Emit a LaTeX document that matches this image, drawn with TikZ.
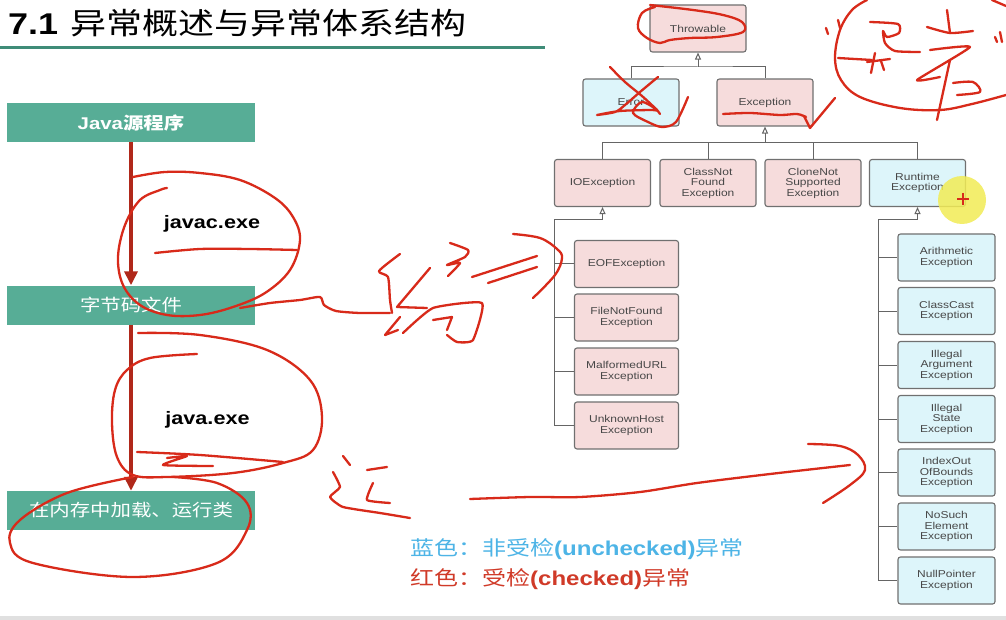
\documentclass[tikz,border=0pt]{standalone}
\usepackage{fontspec}
\setmainfont{Liberation Sans}[FakeStretch=1.2]
\newfontfamily\cjk{Noto Sans CJK SC}[FakeStretch=1.2]
\usetikzlibrary{arrows.meta}

\definecolor{boxgreen}{HTML}{57AD96}
\definecolor{rulegreen}{HTML}{3F8C78}
\definecolor{flowred}{HTML}{B0281A}
\definecolor{handred}{HTML}{D82A1A}
\definecolor{pinkfill}{HTML}{F6DCDC}
\definecolor{bluefill}{HTML}{DDF5FA}
\definecolor{boxline}{HTML}{707070}
\definecolor{boxtext}{HTML}{474747}
\definecolor{legblue}{HTML}{4DB4E6}
\definecolor{legred}{HTML}{D03A28}
\definecolor{cursor}{HTML}{F2EC55}

\tikzset{
  flowbox/.style={fill=boxgreen, text=white, minimum width=248pt, minimum height=39pt,
    inner sep=0pt, font=\fontsize{17}{17}\selectfont},
  toolname/.style={inner sep=0pt, font=\fontsize{18}{18}\selectfont\bfseries},
  flowarrow/.style={draw=flowred, line width=3.5pt, -{Triangle[length=14pt,width=13pt]}},
  cls/.style={draw=boxline, line width=1.1pt, rounded corners=2.5pt, align=center,
    inner sep=0pt, text=boxtext, font=\fontsize{10}{10.5}\selectfont},
  checked/.style={cls, fill=pinkfill},
  unchecked/.style={cls, fill=bluefill},
  wide/.style={minimum width=96pt, minimum height=47pt},
  leaf/.style={minimum width=104pt, minimum height=47pt},
  rleaf/.style={minimum width=97pt, minimum height=47pt},
  link/.style={draw=boxline!90!black, line width=1pt},
  inherit/.style={link, -{Triangle[open, length=7pt, width=6pt]}},
  hand/.style={draw=handred, line width=2.3pt, line cap=round, line join=round},
}

\begin{document}
\begin{tikzpicture}[x=1pt, y=-1pt]
\useasboundingbox (0,0) rectangle (1006,620);
\fill[white] (0,0) rectangle (1006,620);
\fill[black!12] (0,616) rectangle (1006,620);

% heading and rule
\node[anchor=base west, inner sep=0pt] (title) at (8,35)
  {\fontsize{30}{30}\selectfont\bfseries 7.1\hspace{12pt}{\cjk\mdseries 异常概述与异常体系结构}};
\draw[rulegreen, line width=3pt] (0,48) -- (545,48);

% compile / run flow
\node[flowbox] (src) at (131,122.5) {\bfseries Java{\cjk 源程序}};
\node[flowbox] (byte) at (131,305) {\cjk 字节码文件};
\node[flowbox] (run) at (131,510.5) {\cjk 在内存中加载、运行类};
\draw[flowarrow] (src.south) -- (byte.north);
\draw[flowarrow] (byte.south) -- (run.north);
\node[toolname] (javac) at (212,224) {javac.exe};
\node[toolname] (java) at (207.5,420) {java.exe};

% class hierarchy
\node[checked, wide] (thr) at (698,28.5) {Throwable};
\node[unchecked, wide] (err) at (631,102.5) {Error};
\node[checked, wide] (exc) at (765,102.5) {Exception};

\node[checked, wide] (io) at (602.5,183) {IOException};
\node[checked, wide] (cnf) at (708,183) {ClassNot\\Found\\Exception};
\node[checked, wide] (cns) at (813,183) {CloneNot\\Supported\\Exception};
\node[unchecked, wide] (rt) at (917.5,183) {Runtime\\Exception};

\node[checked, leaf] (eof) at (626.5,264) {EOFException};
\node[checked, leaf] (fnf) at (626.5,317.5) {FileNotFound\\Exception};
\node[checked, leaf] (mal) at (626.5,371.5) {MalformedURL\\Exception};
\node[checked, leaf] (unk) at (626.5,425.5) {UnknownHost\\Exception};

\node[unchecked, rleaf] (ari) at (946.5,257.5) {Arithmetic\\Exception};
\node[unchecked, rleaf] (cce) at (946.5,311) {ClassCast\\Exception};
\node[unchecked, rleaf] (iae) at (946.5,365) {Illegal\\Argument\\Exception};
\node[unchecked, rleaf] (ise) at (946.5,419) {Illegal\\State\\Exception};
\node[unchecked, rleaf] (ioob) at (946.5,472.5) {IndexOut\\OfBounds\\Exception};
\node[unchecked, rleaf] (nse) at (946.5,526.5) {NoSuch\\Element\\Exception};
\node[unchecked, rleaf] (npe) at (946.5,580.5) {NullPointer\\Exception};

% inheritance links
\coordinate (jthr) at (698,67);
\draw[inherit] (jthr) -- (thr.south);
\draw[link] (err.north) |- (jthr) -| (exc.north);

\coordinate (jexc) at (765,143);
\draw[inherit] (jexc) -- (exc.south);
\draw[link] (io.north) |- (jexc);
\draw[link] (rt.north) |- (jexc);
\draw[link] (cnf.north) -- (cnf.north |- jexc);
\draw[link] (cns.north) -- (cns.north |- jexc);

\coordinate (jio) at (602.5,220);
\coordinate (jiov) at (554,220);
\draw[inherit] (jio) -- (io.south);
\draw[link] (jio) -- (jiov) |- (unk.west);
\foreach \c in {eof,fnf,mal} \draw[link] (jiov |- \c.west) -- (\c.west);

\coordinate (jrt) at (917.5,220);
\coordinate (jrtv) at (878,220);
\draw[inherit] (jrt) -- (rt.south);
\draw[link] (jrt) -- (jrtv) |- (npe.west);
\foreach \c in {ari,cce,iae,ise,ioob,nse} \draw[link] (jrtv |- \c.west) -- (\c.west);

% legend
\node[anchor=base west, inner sep=0pt, text=legblue, font=\fontsize{20}{20}\selectfont] (leg1) at (410,555)
  {{\cjk 蓝色：非受检}\textbf{(unchecked)}{\cjk 异常}};
\node[anchor=base west, inner sep=0pt, text=legred, font=\fontsize{20}{20}\selectfont] (leg2) at (410,585)
  {{\cjk 红色：受检}\textbf{(checked)}{\cjk 异常}};

% pointer highlight
\fill[cursor, opacity=0.85] (962,200) circle[radius=24pt];
\draw[handred, line width=2pt] (957,199) -- (969,199) (963,193) -- (963,205);

% ---- pen annotations ----
% loop round Throwable
\draw[hand] plot[smooth, tension=0.6] coordinates {(650,5) (693,10) (723,15) (742,22) (743,32) (717,37) (690,38) (670,40) (660,43) (647,38) (638,28) (642,13) (655,7)};
% cross over Error
\draw[hand] plot[smooth, tension=0.5] coordinates {(610,67) (625,82) (642,96) (656,109) (660,114)};
\draw[hand] plot[smooth, tension=0.5] coordinates {(658,77) (640,92) (625,105) (615,112) (597,115) (620,111) (650,110) (657,110) (642,102) (633,113) (648,122) (662,127) (676,122) (688,97)};
% underline and tick under Exception
\draw[hand] plot[smooth, tension=0.5] coordinates {(723,114) (750,113) (780,115) (797,114) (806,117)};
\draw[hand] (804,116) -- (810,128) -- (835,98);
% handwritten word in the corner
\draw[hand] plot[smooth, tension=0.6] coordinates {(867,0) (852,10) (840,30) (835,58) (841,80) (860,97) (900,108) (940,110) (972,104) (1006,95)};
\draw[hand] (992,0) -- (1006,6);
\draw[hand] (826,28) -- (828,34);
\draw[hand] (838,20) -- (840,28);
\draw[hand] (838,58) -- (872,60);
\draw[hand] (875,53) -- (871,73);
\draw[hand] (867,62) -- (890,59);
\draw[hand] (881,61) -- (884,70);
\draw[hand] plot[smooth, tension=0.4] coordinates {(870,22) (898,24) (899,33) (887,37) (883,31) (885,43) (895,51) (920,52)};
\draw[hand] (947,10) -- (950,33);
\draw[hand] plot[smooth, tension=0.4] coordinates {(927,27) (950,33) (973,31)};
\draw[hand] plot[smooth, tension=0.3] coordinates {(930,50) (970,47) (917,80) (940,77)};
\draw[hand] (950,60) -- (937,120);
\draw[hand] plot[smooth, tension=0.5] coordinates {(953,83) (973,82) (980,92) (957,95)};
\draw[hand] (995,37) -- (997,42);
\draw[hand] (1000,32) -- (1002,42);
% ring round javac.exe
\draw[hand] plot[smooth, tension=0.6] coordinates {(133,177) (165,172) (200,173) (240,180) (275,198) (293,217) (300,240) (290,270) (265,293) (233,307) (200,315) (167,315) (140,305) (123,285) (118,257) (125,225) (140,200) (160,190) (167,188)};
\draw[hand] plot[smooth, tension=0.5] coordinates {(155,253) (200,249) (250,249) (297,250)};
% line out to the word for compiling
\draw[hand] plot[smooth, tension=0.4] coordinates {(240,308) (270,303) (300,300) (320,297) (324,305) (336,311) (360,313) (390,313)};
\draw[hand] plot[smooth, tension=0.4] coordinates {(400,254) (379,271) (388,277) (390,300) (392,313)};
\draw[hand] (430,268) -- (397,307) -- (427,308);
\draw[hand] (400,317) -- (385,335) -- (398,330);
\draw[hand] plot[smooth, tension=0.4] coordinates {(450,243) (468,250) (465,257) (447,265) (460,263) (448,276)};
\draw[hand] plot[smooth, tension=0.3] coordinates {(403,333) (433,308) (482,303) (473,340) (457,342) (447,335)};
\draw[hand] (433,320) -- (452,317) -- (447,330);
\draw[hand] (472,277) -- (537,256);
\draw[hand] (488,283) -- (537,267);
\draw[hand] plot[smooth, tension=0.6] coordinates {(513,234) (540,238) (557,249) (562,258) (555,275) (533,298)};
% ring round java.exe
\draw[hand] plot[smooth, tension=0.6] coordinates {(138,333) (200,335) (267,350) (310,380) (322,417) (313,450) (283,463) (233,473) (167,477) (133,475) (117,457) (112,423) (115,390) (127,370) (150,358) (197,354)};
\draw[hand] plot[smooth, tension=0.5] coordinates {(137,452) (200,455) (283,462)};
\draw[hand] plot[smooth, tension=0.3] coordinates {(167,458) (187,456) (163,465) (213,466)};
% ring round the last step
\draw[hand] plot[smooth, tension=0.6] coordinates {(133,477) (67,493) (20,520) (10,543) (33,563) (133,577) (217,563) (247,530) (247,503) (217,483) (173,477)};
% the word for running
\draw[hand] (343,456) -- (350,465);
\draw[hand] plot[smooth, tension=0.3] coordinates {(333,472) (340,487) (330,497) (343,507) (380,513) (410,518)};
\draw[hand] (367,470) -- (387,467);
\draw[hand] plot[smooth, tension=0.3] coordinates {(373,483) (367,500) (390,503)};
% long arrow to the runtime branch
\draw[hand] plot[smooth, tension=0.5] coordinates {(470,499) (530,497) (580,497) (640,492) (697,483) (770,474) (850,465)};
\draw[hand] plot[smooth, tension=0.6] coordinates {(808,444) (840,446) (858,455) (865,470) (850,485) (823,503)};
\end{tikzpicture}
\end{document}
